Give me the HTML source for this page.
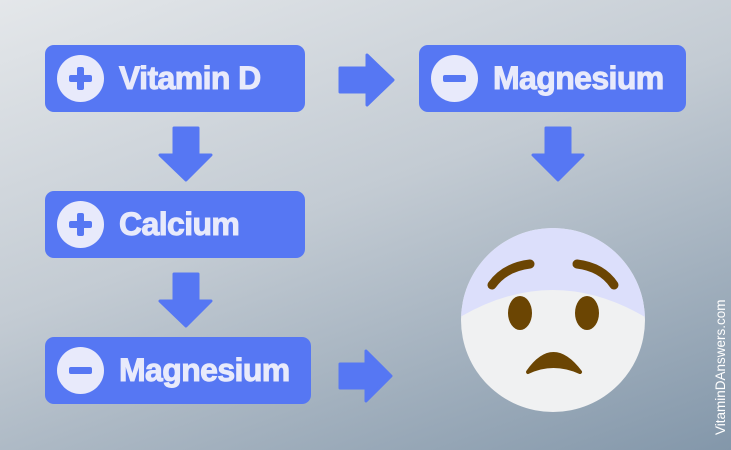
<!DOCTYPE html>
<html><head><style>
body{margin:0;width:731px;height:450px;overflow:hidden;background:linear-gradient(160deg,#e4e7ea 0%,#c3cbd3 45%,#8397aa 100%);font-family:"Liberation Sans",sans-serif;position:relative}
.box{position:absolute;background:#5677f3;border-radius:9px;height:67px;color:#e8eafb;font-weight:bold;font-size:32px;line-height:67px;letter-spacing:-0.6px}
.box .c{position:absolute;left:12px;top:10px;width:47px;height:47px;border-radius:50%;background:#e8eafb}
.box .c::before{content:"";position:absolute;left:12px;top:20px;width:23px;height:7px;background:#5677f3;border-radius:2px}
.box .c.p::after{content:"";position:absolute;left:20px;top:12px;width:7px;height:23px;background:#5677f3;border-radius:2px}
.box span{position:absolute;left:74px;-webkit-text-stroke:1px #e8eafb}
svg{position:absolute;left:0;top:0}
.wm{position:absolute;left:713px;top:435px;transform:rotate(-90deg);transform-origin:0 0;color:#fff;font-size:13.5px;white-space:nowrap}
</style></head><body>
<div class="box" style="left:45px;top:45px;width:260px"><div class="c p"></div><span>Vitamin D</span></div>
<div class="box" style="left:419px;top:45px;width:267px"><div class="c"></div><span>Magnesium</span></div>
<div class="box" style="left:45px;top:191px;width:260px"><div class="c p"></div><span>Calcium</span></div>
<div class="box" style="left:45px;top:337px;width:266px"><div class="c"></div><span>Magnesium</span></div>
<svg width="731" height="450">
<g fill="#5677f3" stroke="#5677f3" stroke-width="3" stroke-linejoin="round">
<polygon points="340,68 367,68 367,55 393,80 367,105 367,92 340,92"/>
<polygon points="340,364 366,364 366,351 391,376 366,401 366,388 340,388"/>
<polygon points="174,128 198,128 198,155 211,155 186,180 160,155 174,155"/>
<polygon points="174,274 198,274 198,301 211,301 186,326 160,301 174,301"/>
<polygon points="546,128 570,128 570,155 583,155 558,180 533,155 546,155"/>
</g>
<defs><clipPath id="fc"><circle cx="553" cy="320" r="92"/></clipPath></defs>
<circle cx="553" cy="320" r="92" fill="#f0f1f2"/>
<path clip-path="url(#fc)" d="M440,330 Q553,250 665,330 L665,200 L440,200Z" fill="#dcdffb"/>
<g stroke="#6b4503" stroke-width="9" stroke-linecap="round" fill="none">
<path d="M492,285 Q505,267 530,264"/>
<path d="M577,264 Q602,267 614,285"/>
</g>
<g fill="#6b4503">
<ellipse cx="520" cy="313" rx="12" ry="17"/>
<ellipse cx="587" cy="313" rx="12" ry="17"/>
<path d="M528,372 Q553,336 580,372 Q553,360 528,372Z" stroke="#6b4503" stroke-width="4" stroke-linejoin="round"/>
</g>
</svg>
<div class="wm">VitaminDAnswers.com</div>
</body></html>
